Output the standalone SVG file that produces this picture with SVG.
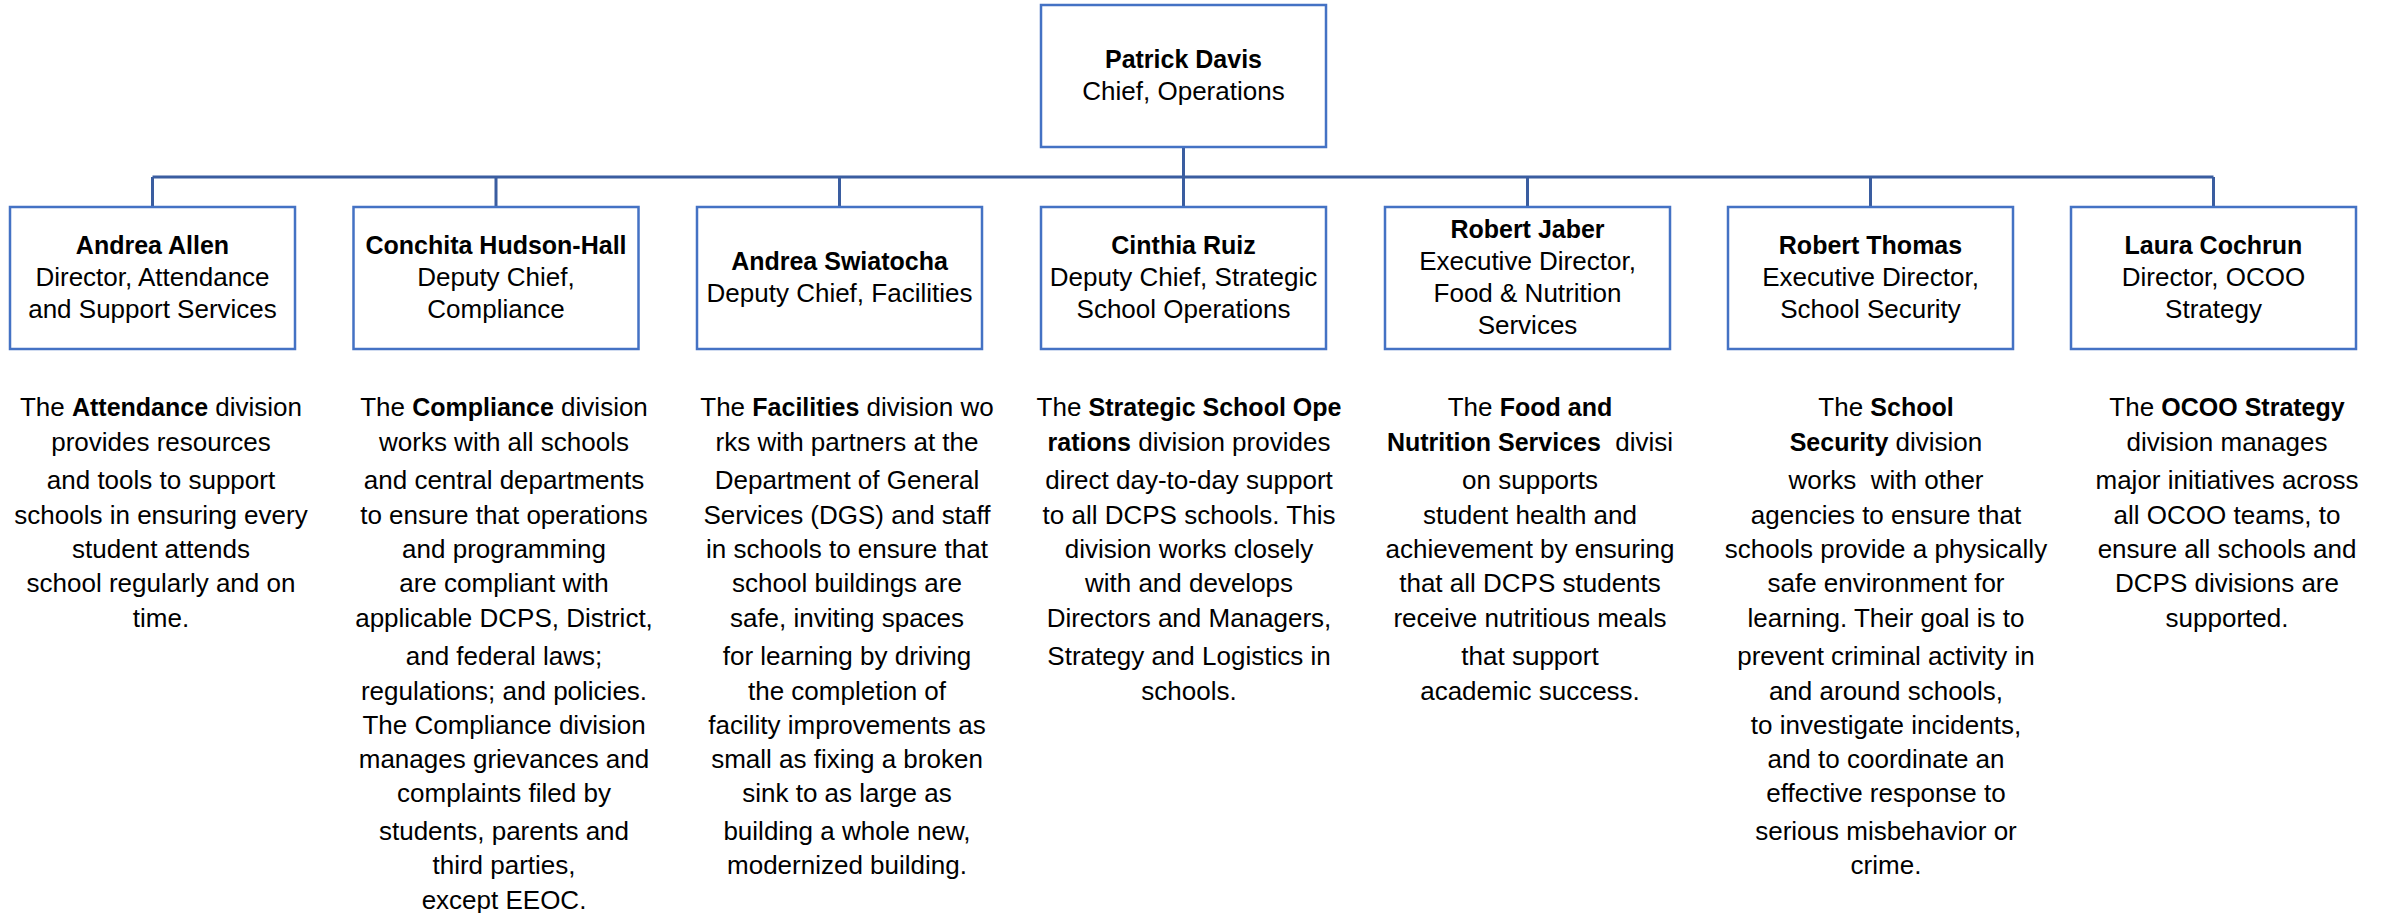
<svg xmlns="http://www.w3.org/2000/svg" width="2387" height="913" viewBox="0 0 2387 913">
<style>
text{font-family:"Liberation Sans",Arial,sans-serif;font-size:26px;fill:#000;text-anchor:middle}
.b{font-weight:bold;font-size:25px}
.box{fill:#fff;stroke:#4472C4;stroke-width:2.5}
.conn{fill:none;stroke:#3A5DA0;stroke-width:3}
</style>
<rect width="2387" height="913" fill="#fff"/>
<g id="connectors">
<path class="conn" d="M1183.5 147V177M152.5 177H2213.5M152.5 177V207M496 177V207M839.5 177V207M1183.5 177V207M1527.5 177V207M1870.5 177V207M2213.5 177V207"/>
</g>
<g id="node-davis">
<rect class="box" x="1041" y="5" width="285" height="142"/>
<text x="1183.5" y="68" class="b">Patrick Davis</text>
<text x="1183.5" y="100">Chief, Operations</text>
</g>
<g id="node-allen">
<rect class="box" x="10" y="207" width="285" height="142"/>
<text x="152.5" y="254" class="b">Andrea Allen</text>
<text x="152.5" y="286">Director, Attendance</text>
<text x="152.5" y="318">and Support Services</text>
</g>
<g id="node-hudson-hall">
<rect class="box" x="353.5" y="207" width="285" height="142"/>
<text x="496" y="254" class="b">Conchita Hudson-Hall</text>
<text x="496" y="286">Deputy Chief,</text>
<text x="496" y="318">Compliance</text>
</g>
<g id="node-swiatocha">
<rect class="box" x="697" y="207" width="285" height="142"/>
<text x="839.5" y="270" class="b">Andrea Swiatocha</text>
<text x="839.5" y="302">Deputy Chief, Facilities</text>
</g>
<g id="node-ruiz">
<rect class="box" x="1041" y="207" width="285" height="142"/>
<text x="1183.5" y="254" class="b">Cinthia Ruiz</text>
<text x="1183.5" y="286">Deputy Chief, Strategic</text>
<text x="1183.5" y="318">School Operations</text>
</g>
<g id="node-jaber">
<rect class="box" x="1385" y="207" width="285" height="142"/>
<text x="1527.5" y="238" class="b">Robert Jaber</text>
<text x="1527.5" y="270">Executive Director,</text>
<text x="1527.5" y="302">Food &amp; Nutrition</text>
<text x="1527.5" y="334">Services</text>
</g>
<g id="node-thomas">
<rect class="box" x="1728" y="207" width="285" height="142"/>
<text x="1870.5" y="254" class="b">Robert Thomas</text>
<text x="1870.5" y="286">Executive Director,</text>
<text x="1870.5" y="318">School Security</text>
</g>
<g id="node-cochrun">
<rect class="box" x="2071" y="207" width="285" height="142"/>
<text x="2213.5" y="254" class="b">Laura Cochrun</text>
<text x="2213.5" y="286">Director, OCOO</text>
<text x="2213.5" y="318">Strategy</text>
</g>
<g id="desc-attendance">
<text x="161" y="416">The <tspan class="b">Attendance</tspan> division</text>
<text x="161" y="451">provides resources</text>
<text x="161" y="489">and tools to support</text>
<text x="161" y="524">schools in ensuring every</text>
<text x="161" y="558">student attends</text>
<text x="161" y="592">school regularly and on</text>
<text x="161" y="627">time.</text>
</g>
<g id="desc-compliance">
<text x="504" y="416">The <tspan class="b">Compliance</tspan> division</text>
<text x="504" y="451">works with all schools</text>
<text x="504" y="489">and central departments</text>
<text x="504" y="524">to ensure that operations</text>
<text x="504" y="558">and programming</text>
<text x="504" y="592">are compliant with</text>
<text x="504" y="627">applicable DCPS, District,</text>
<text x="504" y="665">and federal laws;</text>
<text x="504" y="700">regulations; and policies.</text>
<text x="504" y="734">The Compliance division</text>
<text x="504" y="768">manages grievances and</text>
<text x="504" y="802">complaints filed by</text>
<text x="504" y="840">students, parents and</text>
<text x="504" y="874">third parties,</text>
<text x="504" y="909">except EEOC.</text>
</g>
<g id="desc-facilities">
<text x="847" y="416">The <tspan class="b">Facilities</tspan> division wo</text>
<text x="847" y="451">rks with partners at the</text>
<text x="847" y="489">Department of General</text>
<text x="847" y="524">Services (DGS) and staff</text>
<text x="847" y="558">in schools to ensure that</text>
<text x="847" y="592">school buildings are</text>
<text x="847" y="627">safe, inviting spaces</text>
<text x="847" y="665">for learning by driving</text>
<text x="847" y="700">the completion of</text>
<text x="847" y="734">facility improvements as</text>
<text x="847" y="768">small as fixing a broken</text>
<text x="847" y="802">sink to as large as</text>
<text x="847" y="840">building a whole new,</text>
<text x="847" y="874">modernized building.</text>
</g>
<g id="desc-strategic">
<text x="1189" y="416">The <tspan class="b">Strategic School Ope</tspan></text>
<text x="1189" y="451"><tspan class="b">rations</tspan> division provides</text>
<text x="1189" y="489">direct day-to-day support</text>
<text x="1189" y="524">to all DCPS schools. This</text>
<text x="1189" y="558">division works closely</text>
<text x="1189" y="592">with and develops</text>
<text x="1189" y="627">Directors and Managers,</text>
<text x="1189" y="665">Strategy and Logistics in</text>
<text x="1189" y="700">schools.</text>
</g>
<g id="desc-food">
<text x="1530" y="416">The <tspan class="b">Food and</tspan></text>
<text x="1530" y="451" xml:space="preserve"><tspan class="b">Nutrition Services</tspan>  divisi</text>
<text x="1530" y="489">on supports</text>
<text x="1530" y="524">student health and</text>
<text x="1530" y="558">achievement by ensuring</text>
<text x="1530" y="592">that all DCPS students</text>
<text x="1530" y="627">receive nutritious meals</text>
<text x="1530" y="665">that support</text>
<text x="1530" y="700">academic success.</text>
</g>
<g id="desc-security">
<text x="1886" y="416">The <tspan class="b">School</tspan></text>
<text x="1886" y="451"><tspan class="b">Security</tspan> division</text>
<text x="1886" y="489" xml:space="preserve">works  with other</text>
<text x="1886" y="524">agencies to ensure that</text>
<text x="1886" y="558">schools provide a physically</text>
<text x="1886" y="592">safe environment for</text>
<text x="1886" y="627">learning. Their goal is to</text>
<text x="1886" y="665">prevent criminal activity in</text>
<text x="1886" y="700">and around schools,</text>
<text x="1886" y="734">to investigate incidents,</text>
<text x="1886" y="768">and to coordinate an</text>
<text x="1886" y="802">effective response to</text>
<text x="1886" y="840">serious misbehavior or</text>
<text x="1886" y="874">crime.</text>
</g>
<g id="desc-ocoo">
<text x="2227" y="416">The <tspan class="b">OCOO Strategy</tspan></text>
<text x="2227" y="451">division manages</text>
<text x="2227" y="489">major initiatives across</text>
<text x="2227" y="524">all OCOO teams, to</text>
<text x="2227" y="558">ensure all schools and</text>
<text x="2227" y="592">DCPS divisions are</text>
<text x="2227" y="627">supported.</text>
</g>
</svg>
